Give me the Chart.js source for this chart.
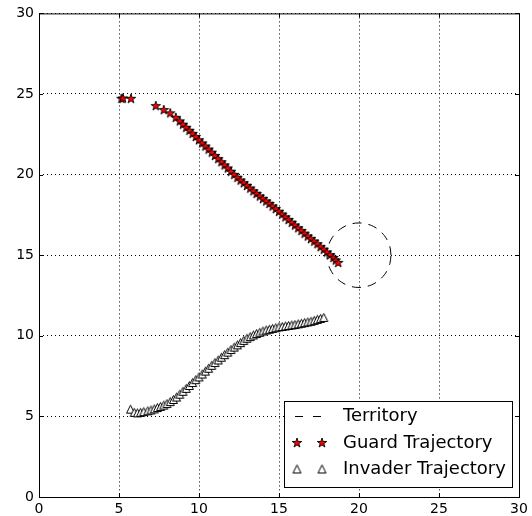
<!DOCTYPE html>
<html>
<head>
<meta charset="utf-8">
<script src="https://cdn.jsdelivr.net/npm/chart.js@4"></script>
<style>
  body { margin: 0; background: #fff; }
</style>
</head>
<body>
<canvas id="chart" width="532" height="516"></canvas>
<script>
const tickValues = [0, 5, 10, 15, 20, 25, 30];
const legendLabels = ["Territory", "Guard Trajectory", "Invader Trajectory"];

// territory circle, read around (20, 15)
const territoryX = [22, 21.93, 21.73, 21.41, 21, 20.52, 20, 19.48, 19, 18.59, 18.27, 18.07,
                    18, 18.07, 18.27, 18.59, 19, 19.48, 20, 20.52, 21, 21.41, 21.73, 21.93, 22];
const territoryY = [15, 15.52, 16, 16.41, 16.73, 16.93, 17, 16.93, 16.73, 16.41, 16, 15.52,
                    15, 14.48, 14, 13.59, 13.27, 13.07, 13, 13.07, 13.27, 13.59, 14, 14.48, 15];

const guardX = [5.15, 5.25, 5.75, 7.3, 7.8, 8.2, 8.55,
                8.8, 9.0, 9.2, 9.4, 9.6, 9.8, 10.0, 10.2, 10.4, 10.6, 10.8, 11.0, 11.2, 11.4,
                11.6, 11.8, 12.0, 12.2, 12.4, 12.6, 12.8, 13.0, 13.2, 13.4, 13.6, 13.8, 14.0,
                14.2, 14.4, 14.6, 14.8, 15.0, 15.2, 15.4, 15.6, 15.8, 16.0, 16.2, 16.4, 16.6,
                16.8, 17.0, 17.2, 17.4, 17.6, 17.8, 18.0, 18.2, 18.4, 18.55, 18.7];
const guardY = [24.7, 24.72, 24.7, 24.25, 24.0, 23.8, 23.52,
                23.3, 23.1, 22.9, 22.72, 22.53, 22.33, 22.13, 21.93, 21.74, 21.55, 21.36, 21.16,
                20.96, 20.77, 20.57, 20.38, 20.18, 19.98, 19.8, 19.63, 19.46, 19.3, 19.13, 18.96,
                18.8, 18.64, 18.48, 18.33, 18.18, 18.02, 17.86, 17.69, 17.52, 17.35, 17.18, 17.01,
                16.84, 16.67, 16.5, 16.33, 16.16, 16.0, 15.84, 15.68, 15.5, 15.34, 15.17, 15.0,
                14.83, 14.67, 14.52];

const invaderX = [5.72, 5.95, 6.15, 6.35, 6.55, 6.8, 7.0, 7.2, 7.4, 7.6, 7.8, 8.0, 8.2, 8.4,
                  8.6, 8.8, 9.0, 9.2, 9.4, 9.6, 9.8, 10.0, 10.2, 10.4, 10.6, 10.8, 11.0, 11.2,
                  11.4, 11.6, 11.8, 12.0, 12.2, 12.4, 12.6, 12.8, 13.0, 13.2, 13.4, 13.6, 13.8,
                  14.0, 14.2, 14.4, 14.6, 14.8, 15.0, 15.2, 15.4, 15.6, 15.8, 16.0, 16.2, 16.4,
                  16.6, 16.8, 17.0, 17.2, 17.4, 17.6, 17.8];
const invaderY = [5.45, 5.25, 5.22, 5.25, 5.3, 5.35, 5.4, 5.47, 5.55, 5.62, 5.7, 5.8, 5.92,
                  6.05, 6.2, 6.38, 6.56, 6.74, 6.92, 7.1, 7.28, 7.45, 7.63, 7.81, 7.99, 8.17,
                  8.34, 8.5, 8.67, 8.83, 8.99, 9.15, 9.3, 9.44, 9.58, 9.72, 9.85, 9.95, 10.05,
                  10.14, 10.22, 10.3, 10.36, 10.41, 10.46, 10.5, 10.55, 10.58, 10.61, 10.64,
                  10.67, 10.7, 10.74, 10.78, 10.82, 10.86, 10.9, 10.96, 11.02, 11.08, 11.14];

Chart.defaults.font.family = "'DejaVu Sans'";

function toPoints(xs, ys) {
    return xs.map((x, i) => ({ x: x, y: ys[i] }));
}

/* MARKER IMAGES */
function makeStar(r) {
    const c = document.createElement("canvas");
    c.width = c.height = Math.ceil(r * 2 + 2);
    const g = c.getContext("2d");
    const cx = c.width / 2, cy = c.height / 2;
    g.beginPath();
    for (let i = 0; i < 10; i++) {
        const rad = i % 2 === 0 ? r : r * 0.382;
        const a = -Math.PI / 2 + i * Math.PI / 5;
        g.lineTo(cx + rad * Math.cos(a), cy + rad * Math.sin(a));
    }
    g.closePath();
    g.fillStyle = "#ff0000";
    g.fill();
    g.lineWidth = 0.9;
    g.strokeStyle = "#000";
    g.stroke();
    return c;
}

function makeTriangle(h) {
    const c = document.createElement("canvas");
    c.width = c.height = 11;
    const g = c.getContext("2d");
    const cx = 5.5, cy = 5.5;
    g.beginPath();
    g.moveTo(cx, cy - h);
    g.lineTo(cx - h, cy + h);
    g.lineTo(cx + h, cy + h);
    g.closePath();
    g.fillStyle = "#fff";
    g.fill();
    g.lineWidth = 1;
    g.strokeStyle = "#000";
    g.stroke();
    return c;
}

const starImg = makeStar(5);
const triImg = makeTriangle(4);

/* FRAME, INWARD TICKS AND LEGEND */
const framePlugin = {
    id: "frame",
    afterDraw(chart) {
        const { ctx, chartArea: a, scales } = chart;
        ctx.save();
        ctx.strokeStyle = "#000";
        ctx.lineWidth = 1;
        ctx.setLineDash([]);
        ctx.strokeRect(a.left + 0.5, a.top + 0.5, a.right - a.left, a.bottom - a.top);

        ctx.beginPath();
        tickValues.forEach(v => {
            const px = Math.round(scales.x.getPixelForValue(v)) + 0.5;
            ctx.moveTo(px, a.bottom); ctx.lineTo(px, a.bottom - 4);
            ctx.moveTo(px, a.top); ctx.lineTo(px, a.top + 4);
            const py = Math.round(scales.y.getPixelForValue(v)) + 0.5;
            ctx.moveTo(a.left, py); ctx.lineTo(a.left + 4, py);
            ctx.moveTo(a.right, py); ctx.lineTo(a.right - 4, py);
        });
        ctx.stroke();

        // legend
        const bx = 284.5, by = 401.5, bw = 228, bh = 86;
        ctx.fillStyle = "#fff";
        ctx.fillRect(bx, by, bw, bh);
        ctx.strokeRect(bx, by, bw, bh);

        const rows = [416, 443, 469];
        ctx.beginPath();
        ctx.setLineDash([8, 10]);
        ctx.moveTo(295, rows[0] + 0.5);
        ctx.lineTo(321, rows[0] + 0.5);
        ctx.stroke();
        ctx.setLineDash([]);

        [297, 322].forEach(mx => {
            ctx.drawImage(starImg, mx - starImg.width / 2, rows[1] - starImg.height / 2);
            ctx.drawImage(triImg, mx - triImg.width / 2, rows[2] - triImg.height / 2);
        });

        ctx.fillStyle = "#000";
        ctx.font = "18px 'DejaVu Sans'";
        ctx.textBaseline = "middle";
        ctx.textAlign = "left";
        legendLabels.forEach((t, i) => ctx.fillText(t, 343, rows[i]));
        ctx.restore();
    }
};

const axisCommon = {
    type: "linear",
    min: 0,
    max: 30,
    afterBuildTicks: s => { s.ticks = tickValues.map(v => ({ value: v })); },
    grid: { color: "#000", lineWidth: 1, drawTicks: false },
    border: { display: false, dash: [1, 3] }
};

new Chart(document.getElementById("chart").getContext("2d"), {
    type: "scatter",
    data: {
        datasets: [
            {
                label: legendLabels[0],
                data: toPoints(territoryX, territoryY),
                showLine: true,
                borderColor: "#000",
                borderWidth: 1,
                borderDash: [9, 7],
                tension: 0.4,
                pointRadius: 0,
                order: 3
            },
            {
                label: legendLabels[1],
                data: toPoints(guardX, guardY),
                pointStyle: starImg,
                order: 2
            },
            {
                label: legendLabels[2],
                data: toPoints(invaderX, invaderY),
                pointStyle: triImg,
                order: 1
            }
        ]
    },
    options: {
        responsive: false,
        animation: false,
        layout: { padding: { left: 0, top: 13, right: 13, bottom: 0 } },
        plugins: { legend: { display: false }, tooltip: { enabled: false } },
        scales: {
            x: Object.assign({}, axisCommon, {
                ticks: { color: "#000", font: { size: 14 }, padding: 4, maxRotation: 0 },
                afterFit: s => { s.height = 19; }
            }),
            y: Object.assign({}, axisCommon, {
                ticks: { color: "#000", font: { size: 14 }, padding: 5 },
                afterFit: s => { s.width = 39; }
            })
        }
    },
    plugins: [framePlugin]
});
</script>
</body>
</html>
